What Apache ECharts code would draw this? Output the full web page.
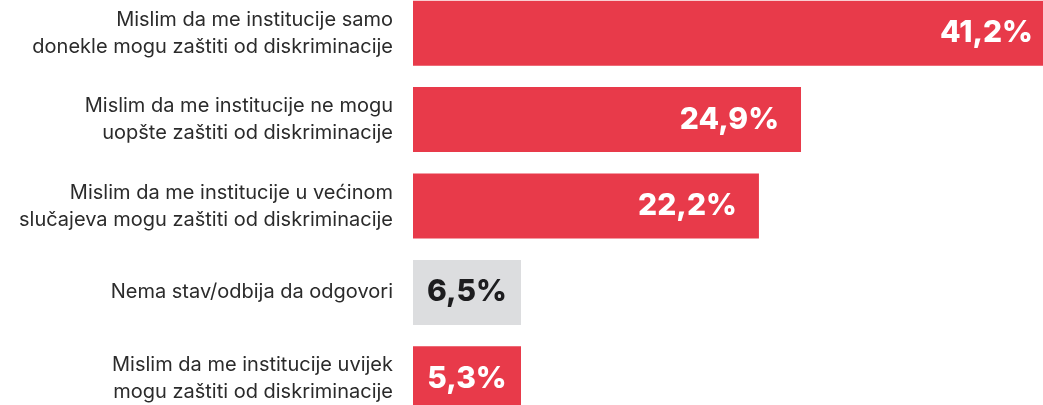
<!DOCTYPE html>
<html>
<head>
<meta charset="utf-8">
<script src="https://cdn.jsdelivr.net/npm/echarts@6/dist/echarts.min.js"></script>
<style>
  html, body { margin: 0; padding: 0; background: #fff; overflow: hidden; width: 1043px; height: 405px; }
  #chart { position: absolute; left: 0; top: -10px; width: 1055px; height: 432px; }
</style>
</head>
<body>
<div id="chart"></div>
<script>
// data
var categories = [
  'Mislim da me institucije samo\ndonekle mogu zaštiti od diskriminacije',
  'Mislim da me institucije ne mogu\nuopšte zaštiti od diskriminacije',
  'Mislim da me institucije u većinom\nslučajeva mogu zaštiti od diskriminacije',
  'Nema stav/odbija da odgovori',
  'Mislim da me institucije uvijek\nmogu zaštiti od diskriminacije'
];
var values = [41.2, 24.9, 22.2, 6.5, 5.3];
var neutral = [false, false, false, true, false];

var red = '#e83a4a';
var grey = '#dcdddf';

var chartDom = document.getElementById('chart');
var myChart = echarts.init(chartDom);

var seriesData = values.map(function (v, i) {
  var item = {
    value: v,
    itemStyle: { color: neutral[i] ? grey : red },
    label: {}
  };
  if (neutral[i]) item.label.color = '#1d1d1f';
  if (v < 10) item.label.position = 'inside';
  return item;
});

var option = {
  animation: false,
  grid: {
    left: 413,
    right: 0,
    top: 0,
    bottom: 0
  },
  xAxis: {
    type: 'value',
    min: 0,
    max: 41.2,
    show: false
  },
  yAxis: {
    type: 'category',
    inverse: true,
    data: categories,
    axisLine: { show: false },
    axisTick: { show: false },
    axisLabel: {
      margin: 20,
      color: '#2b2b2b',
      fontFamily: 'Inter',
      fontSize: 20,
      lineHeight: 27,
      align: 'right'
    }
  },
  series: [
    {
      type: 'bar',
      data: seriesData,
      barWidth: 65,
      barMinHeight: 108,
      label: {
        show: true,
        position: 'insideRight',
        distance: 22,
        color: '#fff',
        fontFamily: 'Inter',
        fontWeight: 800,
        fontSize: 30,
        formatter: function (p) {
          return p.value.toFixed(1).replace('.', ',') + '%';
        }
      }
    }
  ]
};

option && myChart.setOption(option);
</script>
</body>
</html>
